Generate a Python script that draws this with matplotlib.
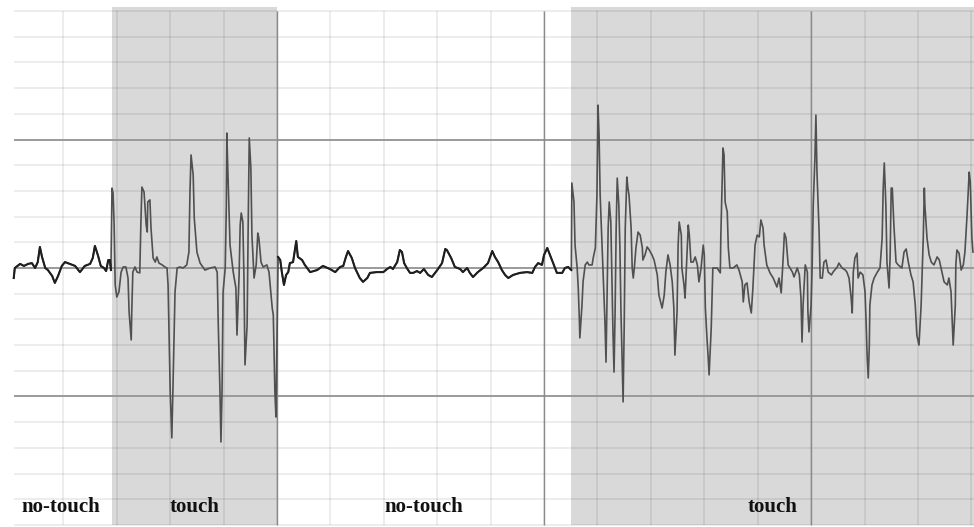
import numpy as np
import matplotlib
matplotlib.use("Agg")
from matplotlib import pyplot as plt

# Trace: (time, amplitude), both in grid divisions
no_touch_1 = [(0.07, -0.39), (0.09, 0.00), (0.19, 0.16), (0.26, 0.08), (0.34, 0.16), (0.41, 0.19),
              (0.47, 0.00), (0.52, 0.23), (0.56, 0.82), (0.60, 0.43), (0.66, 0.00), (0.71, -0.08),
              (0.79, -0.31), (0.84, -0.58), (0.90, -0.31), (0.97, 0.08), (1.03, 0.23), (1.12, 0.16),
              (1.22, 0.08), (1.31, -0.16), (1.40, 0.08), (1.50, 0.16), (1.55, 0.39), (1.59, 0.86),
              (1.65, 0.47), (1.70, 0.08), (1.76, 0.00), (1.80, -0.12), (1.84, 0.31), (1.87, 0.31),
              (1.89, -0.08)]

touch_1 = [(1.91, 3.11), (1.93, 2.92), (1.95, 1.67), (1.97, -0.66), (2.00, -1.13), (2.04, -0.93),
           (2.08, -0.16), (2.12, 0.04), (2.17, 0.04), (2.21, -0.39), (2.23, -1.71), (2.27, -2.80),
           (2.28, -1.71), (2.30, -0.16), (2.34, 0.04), (2.38, -0.16), (2.43, -0.19), (2.45, 1.67),
           (2.47, 3.15), (2.51, 2.96), (2.55, 1.67), (2.57, 1.40), (2.58, 2.57), (2.62, 2.65),
           (2.64, 1.56), (2.68, 0.39), (2.72, 0.23), (2.75, 0.43), (2.79, 0.19), (2.85, 0.12),
           (2.90, 0.04), (2.94, 0.00), (2.96, -0.66), (3.00, -4.82), (3.03, -6.61), (3.05, -4.82),
           (3.09, -0.93), (3.13, 0.00), (3.18, 0.04), (3.24, 0.00), (3.31, 0.12), (3.35, 0.62),
           (3.37, 2.96), (3.39, 4.40), (3.43, 3.62), (3.45, 1.95), (3.50, 0.62), (3.56, 0.19),
           (3.65, -0.08), (3.75, 0.00), (3.84, 0.04), (3.88, -0.16), (3.90, -2.22), (3.93, -4.67),
           (3.95, -6.77), (3.97, -4.82), (3.99, -0.93), (4.03, 0.00), (4.05, 2.33), (4.06, 5.25),
           (4.08, 3.73), (4.12, 0.89), (4.18, -0.16), (4.23, -0.78), (4.25, -2.61), (4.29, -0.27),
           (4.31, 1.67), (4.33, 2.14), (4.36, 1.79), (4.38, -0.27), (4.40, -3.77), (4.44, -2.22),
           (4.46, 1.67), (4.48, 5.06), (4.51, 3.89), (4.53, 1.28), (4.57, -0.39), (4.61, 0.12),
           (4.64, 1.36), (4.66, 1.17), (4.70, 0.23), (4.74, 0.04), (4.81, 0.12), (4.85, -0.16),
           (4.91, -1.56), (4.93, -1.83), (4.96, -4.82), (4.98, -5.80)]

no_touch_2 = [(5.02, 0.43), (5.06, 0.31), (5.09, -0.16), (5.13, -0.66), (5.17, -0.27), (5.21, -0.16),
              (5.24, 0.19), (5.30, 0.23), (5.36, 1.05), (5.39, 0.43), (5.47, 0.31), (5.52, 0.12),
              (5.62, -0.16), (5.75, -0.08), (5.86, 0.08), (5.99, -0.04), (6.09, -0.16), (6.18, 0.04),
              (6.24, 0.08), (6.29, 0.43), (6.33, 0.66), (6.40, 0.39), (6.46, 0.00), (6.55, -0.39),
              (6.61, -0.54), (6.69, -0.39), (6.74, -0.19), (6.87, -0.16), (6.99, -0.16), (7.06, -0.04),
              (7.12, 0.04), (7.17, -0.04), (7.25, 0.23), (7.30, 0.70), (7.34, 0.62), (7.38, 0.19),
              (7.43, 0.00), (7.49, -0.19), (7.55, -0.19), (7.62, -0.12), (7.68, -0.19), (7.75, -0.04),
              (7.83, -0.27), (7.90, -0.35), (8.00, -0.08), (8.09, 0.19), (8.15, 0.74), (8.18, 0.70),
              (8.26, 0.39), (8.33, 0.04), (8.43, -0.04), (8.48, -0.16), (8.56, 0.00), (8.61, -0.19),
              (8.67, -0.35), (8.76, -0.16), (8.86, 0.00), (8.95, 0.19), (9.03, 0.66), (9.08, 0.43),
              (9.14, 0.23), (9.21, -0.08), (9.27, -0.27), (9.33, -0.39), (9.42, -0.27), (9.55, -0.19),
              (9.68, -0.16), (9.78, -0.19), (9.83, 0.04), (9.89, 0.19), (9.96, 0.12), (10.00, 0.51),
              (10.06, 0.78), (10.11, 0.51), (10.17, 0.19), (10.24, -0.19), (10.34, -0.19), (10.39, 0.00),
              (10.45, 0.04), (10.51, -0.08)]

touch_2 = [(10.52, 3.31), (10.56, 2.57), (10.58, 0.89), (10.62, 0.00), (10.64, -0.78), (10.66, -1.95),
           (10.67, -2.72), (10.71, -1.44), (10.73, -0.54), (10.77, 0.12), (10.81, 0.23), (10.84, 0.12),
           (10.90, 0.12), (10.92, 0.39), (10.96, 0.78), (10.99, 2.84), (11.01, 6.34), (11.03, 5.18),
           (11.05, 2.84), (11.09, 0.62), (11.10, 0.00), (11.14, -2.10), (11.16, -3.66), (11.18, -1.05),
           (11.20, 1.56), (11.22, 2.57), (11.25, 1.79), (11.27, -0.27), (11.29, -2.49), (11.31, -4.05),
           (11.33, -1.71), (11.35, 1.56), (11.37, 3.50), (11.40, 2.45), (11.42, 0.78), (11.44, -1.71),
           (11.48, -5.21), (11.50, -2.33), (11.52, 1.56), (11.55, 3.54), (11.57, 3.11), (11.59, 2.84),
           (11.63, 1.56), (11.65, 0.00), (11.67, -0.39), (11.69, 0.00), (11.72, 0.78), (11.76, 1.40),
           (11.80, 1.28), (11.84, 0.78), (11.85, 0.31), (11.89, 0.51), (11.93, 0.82), (11.97, 0.70),
           (12.02, 0.51), (12.06, 0.31), (12.12, -0.27), (12.15, -1.05), (12.21, -1.56), (12.25, -1.05),
           (12.28, -0.16), (12.32, 0.51), (12.36, 0.12), (12.40, -0.54), (12.43, -1.56), (12.45, -3.39),
           (12.49, -1.71), (12.51, 0.89), (12.53, 1.79), (12.57, 1.28), (12.58, 0.00), (12.62, -0.66),
           (12.64, -1.17), (12.68, 0.78), (12.70, 1.67), (12.72, 1.28), (12.75, 0.23), (12.79, 0.23),
           (12.83, 0.43), (12.87, 0.12), (12.90, -0.54), (12.94, 0.00), (12.98, 0.89), (13.00, 0.51),
           (13.02, -1.56), (13.05, -2.72), (13.07, -3.39), (13.09, -4.16), (13.13, -2.33), (13.15, -0.78),
           (13.16, 0.00), (13.24, 0.00), (13.30, -0.19), (13.31, 1.28), (13.35, 4.67), (13.37, 4.40),
           (13.39, 2.57), (13.43, 2.18), (13.45, 0.78), (13.48, 0.00), (13.54, 0.00), (13.61, 0.12),
           (13.65, -0.08), (13.71, -0.54), (13.73, -1.32), (13.76, -0.66), (13.80, -0.58), (13.84, -1.32),
           (13.88, -1.75), (13.91, -0.78), (13.95, 0.89), (13.99, 1.28), (14.03, 1.21), (14.06, 1.87),
           (14.10, 1.56), (14.12, 0.89), (14.17, 0.12), (14.23, -0.19), (14.29, -0.39), (14.36, -0.74),
           (14.40, -0.39), (14.44, -0.97), (14.48, 0.51), (14.50, 1.36), (14.53, 1.17), (14.57, 0.12),
           (14.65, -0.16), (14.68, -0.35), (14.74, 0.00), (14.78, -0.27), (14.81, -1.17), (14.83, -2.88),
           (14.85, -1.44), (14.89, 0.12), (14.93, -0.16), (14.94, -1.71), (14.96, -2.49), (15.00, -1.44),
           (15.02, 0.12), (15.04, 2.45), (15.07, 4.20), (15.09, 5.95), (15.11, 3.73), (15.15, 1.40),
           (15.17, -0.39), (15.21, -0.39), (15.24, 0.23), (15.28, 0.31), (15.32, -0.16), (15.38, -0.27),
           (15.41, -0.16), (15.49, 0.04), (15.52, 0.19), (15.58, 0.00), (15.64, -0.08), (15.67, -0.16),
           (15.71, -0.39), (15.75, -1.17), (15.77, -1.75), (15.79, -0.16), (15.82, 0.39), (15.86, 0.58),
           (15.88, -0.39), (15.92, -0.16), (15.97, -0.27), (16.01, -0.93), (16.03, -2.10), (16.05, -3.50),
           (16.07, -4.28), (16.09, -3.00), (16.10, -1.44), (16.14, -0.66), (16.18, -0.39), (16.24, -0.16),
           (16.29, 0.00), (16.33, 1.17), (16.35, 3.11), (16.37, 4.09), (16.40, 2.45), (16.42, 0.23),
           (16.46, -0.78), (16.48, 0.51), (16.50, 3.11), (16.52, 3.11), (16.55, 1.67), (16.59, 0.23),
           (16.63, 0.12), (16.70, 0.00), (16.74, 0.62), (16.78, 0.74), (16.82, 0.23), (16.87, -0.27),
           (16.91, -0.54), (16.95, -1.44), (16.98, -2.61), (17.02, -3.00), (17.06, -1.44), (17.10, 1.17),
           (17.12, 3.11), (17.13, 2.45), (17.17, 1.17), (17.21, 0.51), (17.25, 0.23), (17.30, 0.12),
           (17.36, 0.43), (17.40, 0.31), (17.45, -0.16), (17.49, -0.54), (17.55, -0.66), (17.58, -0.39),
           (17.62, -0.93), (17.64, -1.95), (17.66, -3.00), (17.70, -1.44), (17.71, 0.12), (17.73, 0.70),
           (17.77, 0.58), (17.81, -0.08), (17.85, 0.12), (17.88, 0.62), (17.92, 2.06), (17.96, 3.73),
           (17.98, 3.35), (18.01, 1.17), (18.03, 0.62)]

# Phases (start, end, label)
phase_bounds = [(0.0, 1.91), (1.91, 5.0), (5.0, 10.51), (10.51, 18.1)]
phase_labels = ["no-touch", "touch", "no-touch", "touch"]

fig = plt.figure(figsize=(9.74, 5.27), dpi=100)
ax = fig.add_axes([0, 0, 1, 1])
ax.set_xlim(-0.187, 18.05)
ax.set_ylim(-10.08, 10.43)
ax.axis("off")

# shaded touch phases
for (t0, t1), lab in zip(phase_bounds, phase_labels):
    if lab == "touch":
        ax.fill_between([t0, t1], -10.0, 10.16, color="#d9d9d9", lw=0, zorder=0)

# grid: minor every division, darker every 5
ax.hlines(np.arange(-10, 11), 0.075, 18.05, color="k", alpha=0.085, lw=1.2, zorder=1)
ax.vlines(np.arange(1, 19), -10.0, 10.0, color="k", alpha=0.085, lw=1.2, zorder=1)
ax.hlines([-5, 0, 5], 0.075, 18.05, color="#9a9a9a", lw=1.4, zorder=2)
ax.vlines([5, 10, 15], -10.0, 10.0, color="#8a8a8a", lw=1.0, zorder=2)

# whole trace in grey, quiet phases redrawn darker on top
trace = np.array(no_touch_1 + touch_1 + no_touch_2 + touch_2)
ax.plot(trace[:, 0], trace[:, 1], color="#505050", lw=1.2, zorder=3)
for seg in (no_touch_1, no_touch_2):
    s = np.array(seg)
    ax.plot(s[:, 0], s[:, 1], color="#1e1e1e", lw=1.5, zorder=4)

for (t0, t1), lab in zip(phase_bounds, phase_labels):
    ax.text((t0 + min(t1, 18.05)) / 2, -9.3, lab, ha="center", va="center",
            family="Liberation Serif", weight="bold", fontsize=15, color="#111111", zorder=5)

fig.savefig("out.png", dpi=100)
